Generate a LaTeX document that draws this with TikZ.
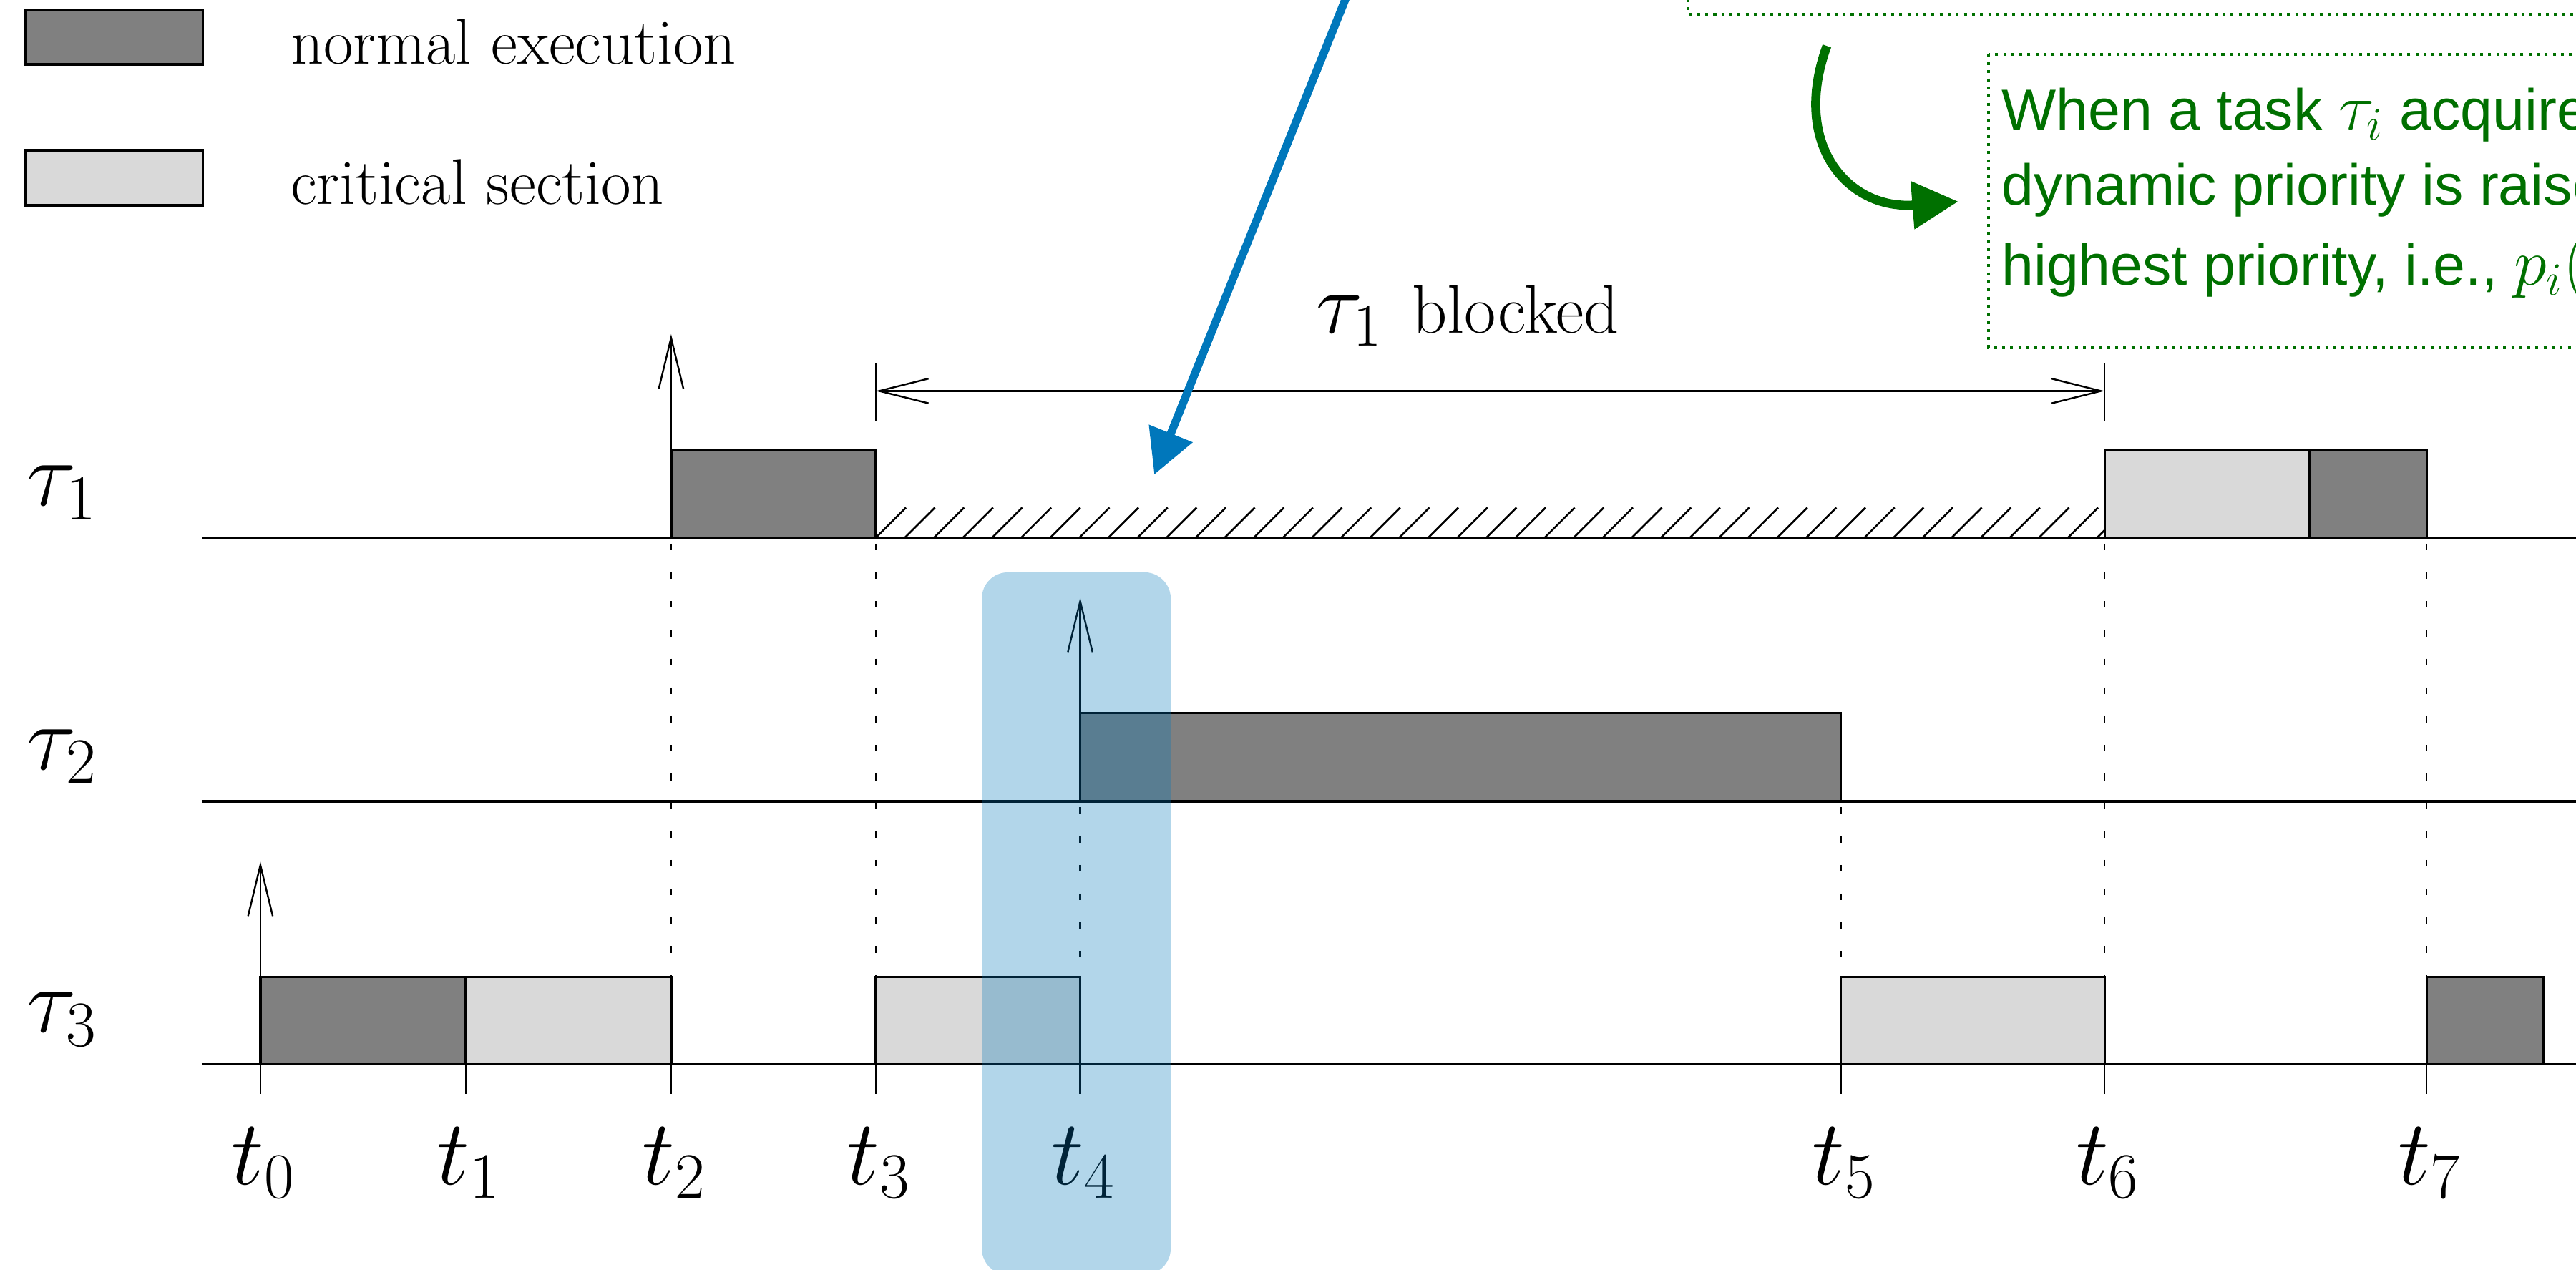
\RequirePackage{fix-cm}
\documentclass[tikz,border=0pt]{standalone}
\usepackage{fontspec}
\newfontfamily\notefont{Liberation Sans}
\usetikzlibrary{arrows.meta}

\definecolor{runfill}{RGB}{128,128,128}
\definecolor{csfill}{RGB}{217,217,217}
\definecolor{notegreen}{RGB}{0,112,0}
\definecolor{hiblue}{RGB}{0,119,187}

\newcommand{\notemath}[1]{{\fontsize{23}{24}\selectfont$#1$}}

\tikzset{
  axis/.style={line width=0.85pt},
  job/.style={draw, line width=0.8pt},
  run/.style={job, fill=runfill},
  cs/.style={job, fill=csfill},
  guide/.style={line width=0.6pt, dash pattern=on 0.08cm off 0.27cm},
  release/.style={line width=0.6pt, -{Straight Barb[length=0.62cm,width=0.3cm]}},
  tickmark/.style={line width=0.6pt},
  hatchline/.style={line width=0.65pt},
  mathlabel/.style={font=\fontsize{32}{36}\selectfont, inner sep=0pt},
  legendtext/.style={font=\fontsize{22.4}{26}\selectfont, inner sep=0pt, anchor=base west},
  notebox/.style={draw=notegreen, line width=1pt, dash pattern=on 1pt off 1.8pt},
  notetext/.style={text=notegreen, font=\notefont\fontsize{20}{24}\selectfont, inner sep=0pt, anchor=base west},
  span/.style={line width=0.6pt, {Straight Barb[length=0.6cm,width=0.3cm]}-{Straight Barb[length=0.6cm,width=0.3cm]}},
}

\begin{document}
\begin{tikzpicture}[x=0.02cm,y=-0.02cm]
\useasboundingbox (0,0) rectangle (1568,773);
\clip (0,0) rectangle (1568,773);

% legend
\draw[run] (15.7,6.1) rectangle (123.4,39.2);
\node[legendtext] (lgrun) at (176.5,39.2) {normal execution};
\draw[cs] (15.7,91.5) rectangle (123.4,125);
\node[legendtext] (lgcs) at (176.5,124.5) {critical section};

% task rows
\node[mathlabel, anchor=base west] (lab1) at (16,307.9) {$\tau_1$};
\node[mathlabel, anchor=base west] (lab2) at (16,468.3) {$\tau_2$};
\node[mathlabel, anchor=base west] (lab3) at (16,628.5) {$\tau_3$};

% blocking interval of tau_1 (hatched)
\begin{scope}
  \clip (533,309) rectangle (1281,327.4);
  \foreach \k in {0,...,43}
    \draw[hatchline] (533+\k*17.7,327.4) -- ++(18.4,-18.4);
\end{scope}

% vertical guides
\foreach \x in {408.5,533,1281,1477}
  \draw[guide] (\x,331) -- (\x,594.7);
\foreach \x in {657.5,1120.5}
  \draw[guide] (\x,491.5) -- (\x,594.7);

% execution boxes
\draw[run] (408.5,274.2) rectangle (533,327.4);
\draw[cs]  (1281,274.2) rectangle (1405.6,327.4);
\draw[run] (1405.6,274.2) rectangle (1477,327.4);
\draw[run] (657.5,434) rectangle (1120.5,487.8);
\draw[run] (158.5,594.7) rectangle (283.5,648);
\draw[cs]  (283.5,594.7) rectangle (408.5,648);
\draw[cs]  (533,594.7) rectangle (657.5,648);
\draw[cs]  (1120.5,594.7) rectangle (1281,648);
\draw[run] (1477,594.7) rectangle (1548.3,648);

% time axes
\draw[axis] (122.8,327.4) -- (1580,327.4);
\draw[axis] (122.8,487.8) -- (1580,487.8);
\draw[axis] (122.8,648) -- (1580,648);

% time ticks and labels
\foreach \n/\x in {0/158.5,1/283.5,2/408.5,3/533,4/657.5,5/1120.5,6/1281,7/1477}{
  \draw[tickmark] (\x,648) -- (\x,666);
  \node[mathlabel, anchor=base] (lt\n) at (\x+2,721) {$t_\n$};
}

% job releases
\coordinate (rel1) at (408.5,327.4);  \coordinate (top1) at (408.5,203.4);
\coordinate (rel2) at (657.5,487.8);  \coordinate (top2) at (657.5,363.7);
\coordinate (rel3) at (158.5,648);    \coordinate (top3) at (158.5,524.4);
\draw[release] (rel1) -- (top1);
\draw[release] (rel2) -- (top2);
\draw[release] (rel3) -- (top3);

% blocking span of tau_1
\coordinate (bl) at (533,238);
\coordinate (br) at (1281,238);
\draw[tickmark] (533,221) -- (533,256);
\draw[tickmark] (1281,221) -- (1281,256);
\draw[span] (bl) -- (br);
\node[anchor=base west, inner sep=0pt] (blk) at (801,202.6)
  {\fontsize{30}{34}\selectfont$\tau_1$\hspace{0.36cm}\fontsize{23.9}{28}\selectfont blocked};

% highlight of t4
\fill[hiblue, fill opacity=0.3, rounded corners=0.32cm] (597.6,348.4) rectangle (712.6,776);

% pointer into the hatched interval
\coordinate (bstart) at (826.8,-20);
\coordinate (btip) at (702.6,288.9);
\draw[hiblue, line width=0.098cm, -{Triangle[length=0.54cm,width=0.55cm]}] (bstart) -- (btip);

% notes
\draw[notebox] (1027.5,-30) rectangle (1620,8.7);
\draw[notebox] (1210.4,33) rectangle (1620,211.7);
\node[notetext] (n1) at (1218,79.1) {When a task \notemath{\tau_i} acquires};
\node[notetext] (n2) at (1218,124.9) {dynamic priority is raised};
\node[notetext] (n3) at (1218,173.5) {highest priority, i.e., \notemath{p_i(t)}};

\coordinate (gstart) at (1112,28);
\coordinate (gtip) at (1192,122.7);
\draw[notegreen, line width=0.11cm, -{Triangle[length=0.56cm,width=0.56cm]}]
  (gstart) .. controls (1090,88) and (1125,128) .. (gtip);
\end{tikzpicture}
\end{document}
